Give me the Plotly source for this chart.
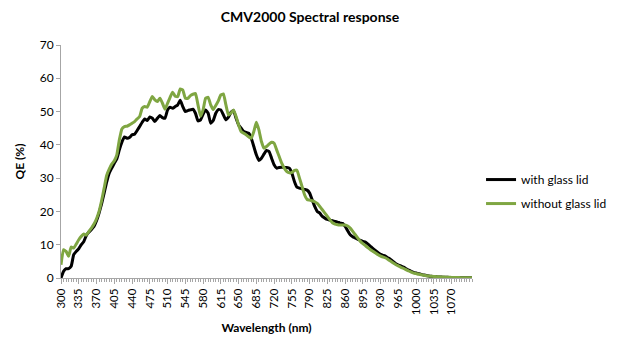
import plotly.graph_objects as go

wavelength = list(range(300, 1115, 5))

with_lid = [
    0, 2, 2.8, 2.8, 3.5, 7, 8, 8.8, 10, 11,            # 300-345
    12.8, 13.8, 14.6, 15.5, 17.2, 19.5, 22.3, 25.5, 28.8, 31.5,  # 350-395
    33, 34.5, 35.8, 38.5, 40.8, 42.4, 42, 42.2, 43, 43.2,  # 400-445
    44.3, 45.5, 46.8, 47.8, 47.3, 48.4, 48, 47, 48, 48.8,  # 450-495
    48.2, 48, 50.5, 51.3, 51, 51.5, 52, 53.4, 51.5, 50,    # 500-545
    50.3, 50.5, 50.7, 49.5, 47.2, 47.5, 49.2, 50.5, 49.5, 46.5,  # 550-595
    47.3, 49.5, 50.6, 50.5, 49, 47.5, 48.3, 49.8, 50.3, 48,  # 600-645
    46, 45, 44, 43.7, 43.5, 42, 39.5, 37, 35.3, 36,        # 650-695
    37.2, 38.3, 38, 36, 34, 33, 33.2, 33.3, 33.2, 33.2,    # 700-745
    33, 31.5, 29, 27.3, 27, 26.8, 26.6, 26.4, 25.5, 23.5,  # 750-795
    21.5, 20, 19.5, 18.5, 18, 17.6, 17.4, 17.2, 17, 16.8,  # 800-845
    16.5, 16.4, 15.5, 14.2, 13, 12.4, 12, 11.6, 11.3, 11,  # 850-895
    10.8, 10.2, 9.5, 8.8, 8.2, 7.6, 7.1, 6.8, 6.5, 6,      # 900-945
    5.5, 4.9, 4.3, 3.9, 3.6, 3.3, 2.8, 2.4, 2, 1.7,        # 950-995
    1.5, 1.3, 1.1, 0.9, 0.75, 0.6, 0.5, 0.42, 0.36, 0.3,   # 1000-1045
    0.27, 0.24, 0.2, 0.18, 0.15, 0.13, 0.11, 0.1, 0.09, 0.08,  # 1050-1095
    0.07, 0.06, 0.05,                                       # 1100-1110
]

without_lid = [
    4, 8.5, 8, 6.5, 9.3, 9, 10.2, 11.5, 12.5, 13.2,        # 300-345
    12.9, 14, 15, 16.2, 17.8, 20, 23.2, 27, 30.8, 32.7,    # 350-395
    34.2, 35.2, 37, 41.5, 44.8, 45.5, 45.6, 46, 46.5, 47,  # 400-445
    47.8, 48.5, 51, 51.5, 51.3, 53, 54.5, 53.5, 53, 54,    # 450-495
    52.5, 50.7, 52.5, 54.3, 55.8, 54.6, 54.5, 56.8, 56.5, 54,  # 500-545
    54, 54.8, 55.2, 55.4, 52, 48.6, 50.5, 54, 54.3, 52,    # 550-595
    50.6, 51.8, 53.2, 55, 55.3, 52, 49, 49.5, 50.5, 48.5,  # 600-645
    46, 44, 43.5, 43, 42.4, 42, 44, 46.8, 44.5, 41,        # 650-695
    39, 39.5, 40.2, 40.8, 40.5, 38.5, 36.5, 34.5, 33, 32,  # 700-745
    31.6, 31.7, 32.3, 32.4, 30, 27.5, 25, 23.6, 23.4, 23.2,  # 750-795
    22.9, 22.4, 21.5, 20.5, 19.5, 18.5, 17.5, 16.6, 16.2, 16,  # 800-845
    15.9, 15.9, 15.9, 15.6, 15, 14, 13, 12, 11, 10.3,      # 850-895
    9.7, 9.1, 8.5, 8, 7.5, 7, 6.6, 6.3, 6, 5.5,            # 900-945
    5, 4.5, 4, 3.6, 3.2, 2.9, 2.5, 2.1, 1.8, 1.5,          # 950-995
    1.3, 1.1, 1, 0.85, 0.7, 0.6, 0.5, 0.45, 0.4, 0.35,     # 1000-1045
    0.3, 0.27, 0.24, 0.21, 0.18, 0.16, 0.14, 0.12, 0.1, 0.09,  # 1050-1095
    0.08, 0.07, 0.06,                                       # 1100-1110
]

x_ticks = list(range(300, 1071, 35))
y_ticks = list(range(0, 71, 10))

FONT = "Lato"
AXIS_GRAY = "#A6A6A6"

fig = go.Figure()
fig.add_trace(go.Scatter(
    x=wavelength, y=with_lid, mode="lines", name="with glass lid", legendgroup="a",
    line=dict(color="#000000", width=3, shape="spline", smoothing=0.4),
))
fig.add_trace(go.Scatter(
    x=wavelength, y=without_lid, mode="lines", name="without glass lid", legendgroup="b",
    line=dict(color="#7FA642", width=3, shape="spline", smoothing=0.4),
))

fig.update_layout(
    width=620, height=350,
    margin=dict(l=61, r=148, t=45, b=72, autoexpand=False),
    paper_bgcolor="white", plot_bgcolor="white",
    font=dict(family=FONT, color="#000000", size=12),
    title=dict(text="<b>CMV2000 Spectral response</b>", x=0.5, xanchor="center",
               y=0.95, yanchor="middle", font=dict(size=14, color="#000000", family=FONT)),
    showlegend=True,
    legend=dict(x=1.022, y=0.371, xanchor="left", yanchor="middle",
                font=dict(size=12, color="#000000", family=FONT),
                tracegroupgap=5, itemwidth=30, bgcolor="rgba(0,0,0,0)"),
    xaxis=dict(
        range=[300, 1110], tickmode="array", tickvals=x_ticks,
        ticktext=[str(v) for v in x_ticks], tickangle=-90,
        showline=True, linecolor=AXIS_GRAY, linewidth=1,
        ticks="outside", ticklen=5, tickcolor=AXIS_GRAY,
        minor=dict(dtick=5, ticks="outside", ticklen=3, tickcolor=AXIS_GRAY, showgrid=False),
        showgrid=False, zeroline=False, automargin=False,
        tickfont=dict(size=11.5, color="#000000"),
        title=dict(text="<b>Wavelength (nm)</b>", font=dict(size=12, color="#000000"), standoff=9),
    ),
    yaxis=dict(
        range=[0, 70], tickmode="array", tickvals=y_ticks,
        showline=True, linecolor=AXIS_GRAY, linewidth=1,
        ticks="outside", ticklen=4, tickcolor=AXIS_GRAY,
        showgrid=False, zeroline=False, automargin=False,
        tickfont=dict(size=12, color="#000000"),
        title=dict(text="<b>QE (%)</b>", font=dict(size=12, color="#000000"), standoff=12),
    ),
)

fig.write_html("out.html")
